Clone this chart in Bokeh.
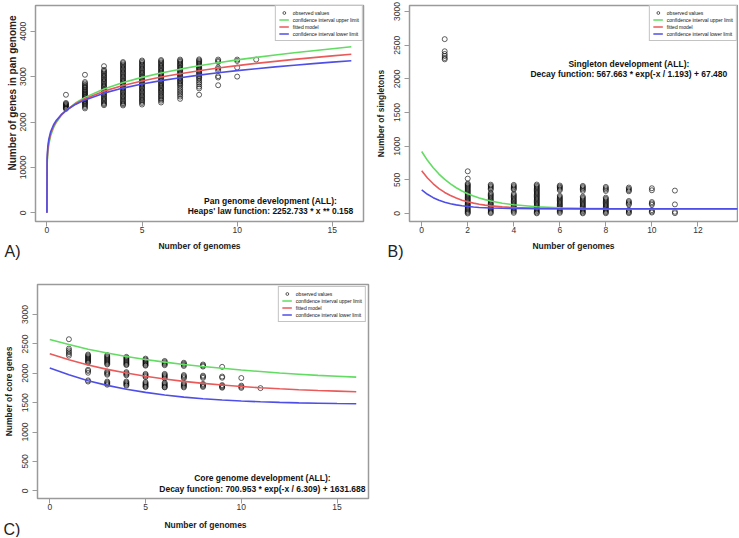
from bokeh.plotting import figure
from bokeh.models import Label, Range1d, Legend, LegendItem, ColumnDataSource, Title
from bokeh.layouts import column, row
from bokeh.embed import file_html
from bokeh.resources import INLINE

# ---------------- data ----------------
genomes = [1, 2, 3, 4, 5, 6, 7, 8, 9, 10, 11]

# Panel A: pan genome, observed values per number of genomes
pan_obs = [
    [2600, 2420, 2400, 2380, 2360, 2340, 2320, 2300, 2290],
    [3040, 2880, 2850, 2820, 2795, 2770, 2750, 2720, 2700, 2675, 2655, 2630, 2610, 2590, 2565, 2545, 2520, 2500, 2475, 2455, 2430, 2410, 2390, 2360, 2330, 2300],
    [3230, 3150, 3120, 3095, 3065, 3035, 3010, 2980, 2950, 2925, 2895, 2870, 2840, 2810, 2785, 2760, 2730, 2700, 2675, 2645, 2615, 2590, 2560, 2530, 2505, 2475, 2450, 2420, 2395, 2370],
    [3320, 3295, 3265, 3240, 3210, 3180, 3155, 3125, 3095, 3070, 3040, 3010, 2985, 2955, 2925, 2900, 2870, 2840, 2815, 2785, 2755, 2730, 2700, 2670, 2645, 2615, 2585, 2560, 2530, 2500, 2470, 2445, 2415, 2390, 2365],
    [3355, 3330, 3300, 3270, 3245, 3215, 3185, 3160, 3130, 3100, 3075, 3045, 3015, 2990, 2960, 2930, 2905, 2875, 2845, 2820, 2790, 2760, 2735, 2705, 2675, 2650, 2620, 2590, 2565, 2535, 2505, 2480, 2450, 2420, 2385],
    [3365, 3340, 3310, 3285, 3255, 3230, 3200, 3175, 3145, 3120, 3090, 3065, 3035, 3010, 2980, 2955, 2925, 2900, 2870, 2845, 2815, 2790, 2760, 2735, 2705, 2680, 2650, 2620, 2590, 2560, 2530, 2500, 2470, 2430],
    [3375, 3350, 3325, 3295, 3270, 3245, 3215, 3190, 3160, 3135, 3110, 3080, 3055, 3025, 3000, 2970, 2945, 2915, 2890, 2860, 2830, 2800, 2760, 2720, 2680, 2640, 2600, 2560, 2510],
    [3380, 3355, 3330, 3305, 3280, 3250, 3225, 3200, 3175, 3150, 3120, 3095, 3070, 3040, 3010, 2980, 2950, 2910, 2870, 2830, 2780, 2740, 2600],
    [3375, 3345, 3320, 3200, 3170, 3130, 3010, 2980, 2810],
    [3375, 3345, 3200, 3000],
    [3375],
]
pan_curve_x = [0, 0.01, 0.02, 0.05, 0.1, 0.2, 0.35, 0.5, 0.75, 1, 1.5, 2, 3, 4, 5, 6, 7, 8, 9, 10, 11, 12, 13, 14, 15, 16]
pan_upper = [0, 1008, 1138, 1335, 1507, 1701, 1875, 1996, 2142, 2253, 2418, 2543, 2729, 2870, 2983, 3080, 3164, 3239, 3306, 3368, 3424, 3477, 3525, 3571, 3615, 3656]
pan_fit = [0, 1088, 1214, 1403, 1566, 1747, 1908, 2019, 2153, 2253, 2402, 2513, 2680, 2804, 2905, 2990, 3064, 3129, 3188, 3241, 3291, 3336, 3379, 3418, 3456, 3491]
pan_lower = [0, 1166, 1287, 1468, 1621, 1790, 1939, 2040, 2162, 2253, 2387, 2487, 2636, 2747, 2836, 2911, 2976, 3033, 3084, 3131, 3174, 3214, 3251, 3286, 3318, 3349]
pan_yticks = [0, 1000, 2000, 3000, 4000]
pan_ytick_labels = ["0", "10000", "2000", "3000", "4000"]

# Panel B: singletons
single_obs = [
    [2590, 2410, 2370, 2340, 2310, 2290],
    [627, 518, 443, 428, 412, 396, 380, 362, 345, 328, 310, 292, 275, 258, 240, 222, 205, 188, 170, 152, 135, 118, 100, 82, 65, 48, 30, 15, 0],
    [428, 410, 393, 374, 354, 303, 285, 266, 247, 228, 208, 190, 170, 150, 132, 112, 94, 75, 56, 38, 20, 5],
    [425, 407, 390, 372, 355, 290, 272, 253, 234, 215, 196, 178, 158, 140, 121, 102, 84, 65, 46, 28, 10],
    [430, 412, 394, 376, 358, 340, 322, 304, 286, 268, 250, 232, 214, 196, 178, 160, 142, 124, 106, 88, 70, 52, 34, 16, 2],
    [415, 398, 382, 364, 346, 262, 244, 226, 208, 190, 172, 154, 136, 118, 100, 82, 64, 46, 28, 10],
    [410, 393, 375, 356, 335, 250, 232, 214, 196, 178, 160, 142, 124, 106, 88, 70, 52, 34, 16, 2],
    [395, 376, 356, 335, 235, 217, 199, 181, 163, 145, 127, 109, 91, 73, 55, 37, 19, 4],
    [385, 366, 347, 330, 186, 168, 150, 133, 55, 38, 20, 5],
    [375, 345, 170, 150, 130, 50, 30, 14],
    [340, 135, 25, 5],
]
single_curve_x = [0, 0.25, 0.5, 0.75, 1, 1.25, 1.5, 1.75, 2, 2.25, 2.5, 2.75, 3, 3.5, 4, 5, 6, 7, 8, 10, 14]
single_upper = [920, 790, 679, 586, 506, 439, 383, 335, 294, 260, 231, 206, 185, 152, 129, 100, 86, 78, 74, 71, 70]
single_fit = [635, 528, 441, 370, 313, 267, 229, 198, 174, 154, 137, 124, 113, 98, 87, 76, 71, 69, 68, 68, 67]
single_lower = [350, 285, 235, 197, 168, 145, 128, 114, 104, 96, 90, 86, 82, 77, 74, 72, 71, 70, 70, 70, 70]
single_yticks = [0, 500, 1000, 1500, 2000, 2500, 3000]

# Panel C: core genome
core_obs = [
    [2580, 2420, 2390, 2360, 2330, 2300],
    [2320, 2302, 2284, 2266, 2248, 2230, 2212, 2195, 2180, 2060, 2040, 2010, 1880, 1860],
    [2310, 2292, 2274, 2256, 2238, 2220, 2202, 2184, 2166, 2150, 2030, 2012, 1994, 1976, 1860, 1842, 1824, 1806],
    [2280, 2262, 2244, 2226, 2208, 2190, 2172, 2154, 2140, 2020, 2002, 1984, 1966, 1860, 1842, 1824, 1806, 1790],
    [2250, 2232, 2214, 2196, 2178, 2160, 2142, 2130, 1990, 1972, 1954, 1936, 1850, 1832, 1814, 1796, 1778, 1765],
    [2210, 2192, 2174, 2156, 2138, 1990, 1972, 1954, 1936, 1915, 1840, 1822, 1804, 1786, 1768, 1760],
    [2180, 2162, 2144, 2125, 1970, 1952, 1934, 1915, 1830, 1812, 1794, 1776, 1760],
    [2150, 2132, 2115, 1960, 1942, 1922, 1820, 1802, 1784, 1768],
    [2110, 1945, 1925, 1800, 1784, 1768, 1755],
    [1920, 1790, 1770, 1752],
    [1748],
]
core_curve_x = [0, 1, 2, 3, 4, 5, 6, 7, 8, 9, 10, 11, 12, 13, 14, 15, 16]
core_upper = [2575, 2490, 2410, 2345, 2285, 2235, 2190, 2150, 2115, 2085, 2055, 2030, 2005, 1985, 1965, 1950, 1935]
core_fit = [2333, 2230, 2142, 2067, 2004, 1949, 1903, 1863, 1829, 1800, 1775, 1754, 1736, 1721, 1708, 1697, 1687]
core_lower = [2090, 1975, 1875, 1795, 1730, 1675, 1630, 1595, 1567, 1545, 1528, 1515, 1505, 1497, 1491, 1486, 1483]
core_yticks = [0, 500, 1000, 1500, 2000, 2500, 3000]

legend_labels = ["observed values", "confidence interval upper limit", "fitted model", "confidence interval lower limit"]
x_title = "Number of genomes"

# ---------------- styling ----------------
FONT = "Liberation Sans"
GREEN = "#62dc62"
RED = "#ea5a5a"
BLUE = "#4f4fe8"
FRAME = "#9a9a9a"


def no_frame_align(fig):
    try:
        fig.frame_align = False
    except Exception:
        pass


def make_panel(width, height, borders, xr, yr, xticks, yticks, ylabel_overrides,
               obs, cx, upper, fit, lower, ytitle, notes, note_x, note_ys, legend_margin):
    p = figure(width=width, height=height, output_backend="svg", toolbar_location=None,
               x_range=Range1d(*xr), y_range=Range1d(*yr),
               min_border_left=borders[0], min_border_right=borders[1],
               min_border_top=borders[2], min_border_bottom=borders[3])
    no_frame_align(p)
    p.xgrid.visible = False
    p.ygrid.visible = False
    p.outline_line_color = FRAME
    p.outline_line_width = 1.5
    p.background_fill_color = "white"
    p.border_fill_color = "white"

    for ax in (p.xaxis[0], p.yaxis[0]):
        ax.axis_line_color = None
        ax.major_tick_line_color = FRAME
        ax.major_tick_out = 5
        ax.major_tick_in = 0
        ax.minor_tick_line_color = None
        ax.major_label_text_font = FONT
        ax.major_label_text_font_size = "8.5px"
        ax.major_label_text_color = "#333333"
        ax.axis_label_text_font = FONT
        ax.axis_label_text_font_size = "8.5px"
        ax.axis_label_text_font_style = "bold"
        ax.axis_label_text_color = "#222222"
    p.xaxis.ticker = xticks
    p.yaxis.ticker = yticks
    p.xaxis.major_label_standoff = 0
    p.yaxis.major_label_orientation = "vertical"
    p.yaxis.major_label_standoff = 4
    p.yaxis.axis_label_standoff = 6
    if ylabel_overrides:
        p.yaxis.major_label_overrides = ylabel_overrides
    if ytitle is not None:
        p.yaxis.axis_label = ytitle

    xs, ys = [], []
    for g, vals in zip(genomes, obs):
        xs.extend([g] * len(vals))
        ys.extend(vals)
    src = ColumnDataSource(dict(x=xs, y=ys))
    sc = p.scatter("x", "y", source=src, marker="circle", size=5, fill_color=None,
                   line_color="#000000", line_alpha=0.62, line_width=1)
    lu = p.line(cx, upper, line_color=GREEN, line_width=1.6)
    lf = p.line(cx, fit, line_color=RED, line_width=1.6)
    ll = p.line(cx, lower, line_color=BLUE, line_width=1.6)

    legend = Legend(items=[LegendItem(label=legend_labels[0], renderers=[sc]),
                           LegendItem(label=legend_labels[1], renderers=[lu]),
                           LegendItem(label=legend_labels[2], renderers=[lf]),
                           LegendItem(label=legend_labels[3], renderers=[ll])],
                    location="top_right")
    legend.margin = legend_margin
    legend.padding = 3
    legend.spacing = 0
    legend.glyph_height = 7
    legend.glyph_width = 10
    legend.label_height = 7
    legend.label_standoff = 4
    legend.label_text_font = FONT
    legend.label_text_font_size = "5px"
    legend.label_text_color = "#111111"
    legend.border_line_color = "#888888"
    legend.border_line_width = 1
    legend.background_fill_alpha = 1
    p.add_layout(legend)

    for txt, yv in zip(notes, note_ys):
        p.add_layout(Label(x=note_x, y=yv, text=txt, text_align="center", text_baseline="middle",
                           text_font=FONT, text_font_size="8.5px", text_font_style="bold",
                           text_color="#111111"))
    return p


def make_strip(width, height, title_x, title_y, tag, tag_x, tag_y):
    """Strip under a panel carrying the x-axis title and the panel letter."""
    s = figure(width=width, height=height, output_backend="svg", toolbar_location=None,
               x_range=Range1d(0, width), y_range=Range1d(height, 0),
               x_axis_type=None, y_axis_type=None,
               min_border=0, min_border_left=0, min_border_right=0,
               min_border_top=0, min_border_bottom=0)
    no_frame_align(s)
    s.outline_line_color = None
    s.background_fill_color = "white"
    s.border_fill_color = "white"
    s.add_layout(Label(x=title_x, y=title_y, text=x_title, text_align="center",
                       text_baseline="middle", text_font=FONT, text_font_size="8.5px",
                       text_font_style="bold", text_color="#222222"))
    s.add_layout(Label(x=tag_x, y=tag_y, text=tag, text_align="left",
                       text_baseline="alphabetic", text_font=FONT, text_font_size="16px",
                       text_color="#222222"))
    return s


pA = make_panel(370, 237, (35, 7, 5, 16), (-0.6, 16.64), (-191, 4566), [0, 5, 10, 15],
                pan_yticks, dict(zip(pan_yticks, pan_ytick_labels)),
                pan_obs, pan_curve_x, pan_upper, pan_fit, pan_lower,
                None,
                ["Pan genome development (ALL):", "Heaps' law function: 2252.733 * x ** 0.158"],
                11.75, [271, 51], 0)
pA.add_layout(Title(text="Number of genes in pan genome", align="left", offset=51, standoff=0,
                    text_font=FONT, text_font_size="10px", text_font_style="bold",
                    text_color="#222222"), "left")
sA = make_strip(370, 29, 199, 8, "A)", 4, 14)

pB = make_panel(368, 237, (39, 1, 5, 16), (-0.53, 13.72), (-119, 3090), [0, 2, 4, 6, 8, 10, 12],
                single_yticks, None,
                single_obs, single_curve_x, single_upper, single_fit, single_lower,
                "Number of singletons",
                ["Singleton development (ALL):", "Decay function: 567.663 * exp(-x / 1.193) + 67.480"],
                9.0, [2228, 2079], 0)
sB = make_strip(368, 29, 203, 8, "B)", 17, 14)

pC = make_panel(370, 248, (32, 2, 18, 16), (-0.64, 16.64), (-130, 3511), [0, 5, 10, 15],
                core_yticks, None,
                core_obs, core_curve_x, core_upper, core_fit, core_lower,
                "Number of core genes",
                ["Core genome development (ALL):", "Decay function: 700.953 * exp(-x / 6.309) + 1631.688"],
                11.1, [219, 39], 2)
sC = make_strip(370, 23, 205, 10, "C)", 3, 15)

layout = column(row(column(pA, sA), column(pB, sB)), column(pC, sC))
open("out.html", "w").write(file_html(layout, INLINE))
